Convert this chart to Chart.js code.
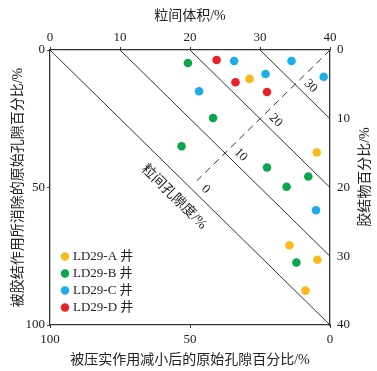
<!DOCTYPE html>
<html><head><meta charset="utf-8">
<script src="https://cdn.jsdelivr.net/npm/chart.js@4.4.1/dist/chart.umd.min.js"></script>
<style>html,body{margin:0;padding:0;background:#fff;}#wrap{width:377px;height:371px;position:relative;}</style>
</head><body><div id="wrap"><canvas id="c" width="377" height="371"></canvas></div>
<script>
// ---- data (x = 粒间体积 %, y = 胶结物 %) ----
const seriesNames = ['LD29-A 井', 'LD29-B 井', 'LD29-C 井', 'LD29-D 井'];
const wellA_igv    = [28.5, 38.1, 34.2, 38.2, 36.5];
const wellA_cement = [4.2, 14.9, 28.4, 30.5, 35.0];
const wellB_igv    = [19.7, 23.3, 18.8, 31.0, 36.9, 33.8, 35.2];
const wellB_cement = [1.9, 9.9, 14.0, 17.1, 18.4, 19.9, 30.9];
const wellC_igv    = [26.3, 34.5, 30.8, 39.1, 21.3, 38.0];
const wellC_cement = [1.6, 1.6, 3.5, 3.9, 6.0, 23.3];
const wellD_igv    = [23.8, 26.5, 31.0];
const wellD_cement = [1.45, 4.7, 6.1];
const porosityContours = [0, 10, 20, 30];          // 粒间孔隙度 contour values
const topTicks = [0, 10, 20, 30, 40];
const rightTicks = [0, 10, 20, 30, 40];
const leftTicks = [0, 50, 100];
const bottomTicks = [100, 50, 0];

const colors = ['#FBB91F', '#0AA64C', '#1AAEEB', '#EC2128'];
const FONT = "'Liberation Serif', 'Noto Sans CJK SC', serif";
const TXT = '#222';
const AX = '#333';

function pts(xs, ys) { return xs.map((v, i) => ({x: v, y: ys[i]})); }
const scatterSets = [
  pts(wellA_igv, wellA_cement), pts(wellB_igv, wellB_cement),
  pts(wellC_igv, wellC_cement), pts(wellD_igv, wellD_cement)
].map((d, i) => ({
  type: 'scatter', label: seriesNames[i], data: d, xAxisID: 'x', yAxisID: 'y',
  pointRadius: 4.3, pointBackgroundColor: colors[i], pointBorderWidth: 0, borderWidth: 0, order: 0
}));
const lineSets = porosityContours.map(c => ({
  type: 'line', label: 'c' + c, data: [{x: c, y: 0}, {x: 40, y: 40 - c}],
  xAxisID: 'x', yAxisID: 'y', borderColor: AX, borderWidth: 1, pointRadius: 0, fill: false, order: 1
}));
lineSets.push({
  type: 'line', label: 'dash', data: [{x: 40, y: 0}, {x: 21, y: 19}],
  xAxisID: 'x', yAxisID: 'y', borderColor: AX, borderWidth: 1, borderDash: [7, 5], pointRadius: 0, fill: false, order: 1
});

function tickCfg(vals) { return { autoSkip: false, color: TXT, font: {family: FONT, size: 13}, callback: v => vals.includes(v) ? String(v) : null }; }

const annot = {
  id: 'annot',
  afterDatasetsDraw(chart) {
    const ctx = chart.ctx, sx = chart.scales.x, sy = chart.scales.y;
    const ang = Math.atan2(sy.getPixelForValue(40) - sy.getPixelForValue(0), sx.getPixelForValue(40) - sx.getPixelForValue(0));
    ctx.save();
    ctx.fillStyle = TXT;
    ctx.textAlign = 'center'; ctx.textBaseline = 'middle';
    // contour labels
    ctx.font = '13px ' + FONT;
    porosityContours.forEach(c => {
      const px = sx.getPixelForValue(c / 2 + 22.25), py = sy.getPixelForValue(20.25 - c / 2);
      ctx.save(); ctx.translate(px, py); ctx.rotate(ang); ctx.fillText(String(c), 0, 0); ctx.restore();
    });
    // 粒间孔隙度 label
    ctx.font = '14px ' + FONT;
    ctx.save(); ctx.translate(sx.getPixelForValue(17.7), sy.getPixelForValue(21.4)); ctx.rotate(ang);
    ctx.fillText('粒间孔隙度/%', 0, 0); ctx.restore();
    // right title
    ctx.save(); ctx.translate(365, 177); ctx.rotate(-Math.PI / 2);
    ctx.fillText('胶结物百分比/%', 0, 0); ctx.restore();
    // legend
    ctx.font = '13px ' + FONT; ctx.textAlign = 'left';
    seriesNames.forEach((n, i) => {
      const y = 256.5 + i * 17;
      ctx.beginPath(); ctx.fillStyle = colors[i]; ctx.arc(65, y, 4.2, 0, Math.PI * 2); ctx.fill();
      ctx.fillStyle = TXT; ctx.fillText(n, 73, y + 0.5);
    });
    ctx.restore();
  }
};

new Chart(document.getElementById('c'), {
  data: { datasets: [...scatterSets, ...lineSets] },
  options: {
    responsive: false, animation: false, devicePixelRatio: 1,
    layout: { padding: 0 },
    plugins: { legend: { display: false }, tooltip: { enabled: false } },
    scales: {
      x: {
        type: 'linear', position: 'top', min: 0, max: 40,
        ticks: Object.assign(tickCfg(topTicks), {stepSize: 10, padding: 2}),
        grid: { display: true, drawOnChartArea: false, drawTicks: true, tickLength: 3, color: AX },
        border: { display: true, color: AX, width: 1.3 },
        title: { display: true, text: '粒间体积/%', color: TXT, font: {family: FONT, size: 14}, padding: {top: 7.5, bottom: 0} },
        afterFit: s => { s.height = 50; }
      },
      y: {
        type: 'linear', position: 'right', min: 0, max: 40, reverse: true,
        ticks: Object.assign(tickCfg(rightTicks), {stepSize: 10, padding: 7}),
        grid: { display: true, drawOnChartArea: false, drawTicks: false, color: AX },
        border: { display: true, color: AX, width: 1.3 },
        afterFit: s => { s.width = 47; }
      },
      x2: {
        type: 'linear', position: 'bottom', min: 0, max: 100, reverse: true,
        ticks: Object.assign(tickCfg(bottomTicks), {stepSize: 50, padding: 4}),
        grid: { display: true, drawOnChartArea: false, drawTicks: true, tickLength: 3, color: AX },
        border: { display: true, color: AX, width: 1.3 },
        title: { display: true, text: '被压实作用减小后的原始孔隙百分比/%', color: TXT, font: {family: FONT, size: 14}, padding: {top: 0, bottom: 2.5} },
        afterFit: s => { s.height = 46; }
      },
      y2: {
        type: 'linear', position: 'left', min: 0, max: 100, reverse: true,
        ticks: Object.assign(tickCfg(leftTicks), {stepSize: 50, padding: 2}),
        grid: { display: true, drawOnChartArea: false, drawTicks: true, tickLength: 3, color: AX },
        border: { display: true, color: AX, width: 1.3 },
        title: { display: true, text: '被胶结作用所消除的原始孔隙百分比/%', color: TXT, font: {family: FONT, size: 14}, padding: {top: 9.5, bottom: 0} },
        afterFit: s => { s.width = 50; }
      }
    }
  },
  plugins: [annot]
});
</script></body></html>
